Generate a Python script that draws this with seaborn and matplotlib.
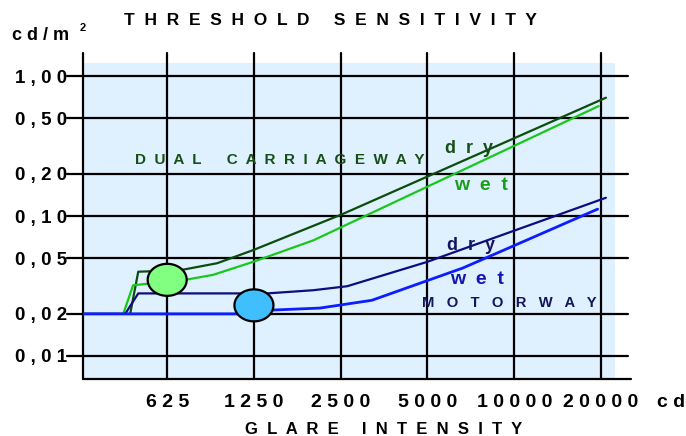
import numpy as np
import matplotlib
matplotlib.use("Agg")
import matplotlib.pyplot as plt
from matplotlib.path import Path
from matplotlib.markers import MarkerStyle
import seaborn as sns

# ----------------------------
# Data (glare intensity in cd, threshold in cd/m2)
# ----------------------------
x_ticks = [625, 1250, 2500, 5000, 10000, 20000]
x_tick_labels = ["6 2 5", "1 2 5 0", "2 5 0 0", "5 0 0 0", "1 0 0 0 0", "2 0 0 0 0"]
y_ticks = [1.0, 0.5, 0.2, 0.1, 0.05, 0.02, 0.01]
y_tick_labels = ["1 , 0 0", "0 , 5 0", "0 , 2 0", "0 , 1 0", "0 , 0 5", "0 , 0 2", "0 , 0 1"]

dual_dry_x = [465, 496, 693, 932, 1240, 2530, 20800]
dual_dry_y = [0.02, 0.040, 0.041, 0.046, 0.057, 0.103, 0.70]

dual_wet_x = [440, 476, 722, 902, 1240, 2008, 2692, 19630]
dual_wet_y = [0.02, 0.032, 0.035, 0.038, 0.047, 0.067, 0.089, 0.61]

motor_dry_x = [320, 447, 496, 1102, 1389, 2008, 2631, 4984, 20800]
motor_dry_y = [0.02, 0.02, 0.028, 0.028, 0.028, 0.0295, 0.0315, 0.047, 0.135]

motor_wet_x = [320, 1102, 1459, 2118, 3206, 6630, 19470]
motor_wet_y = [0.02, 0.02, 0.0213, 0.022, 0.025, 0.0425, 0.112]

marker_x = [625, 1250]
marker_y = [0.035, 0.023]
marker_colors = ["#80ff80", "#40bfff"]

# ----------------------------
# Style
# ----------------------------
sns.set_theme(style="white")
plt.rcParams['font.family'] = ['Liberation Sans', 'DejaVu Sans']
plt.rcParams['font.weight'] = 'bold'

fig = plt.figure(figsize=(6.86, 4.36), dpi=100)
W, H = 686, 436
ax = fig.add_axes([83 / W, 57 / H, 532 / W, 316 / H])
ax.set_facecolor("#dff0fe")

ax.set_xscale("log", base=2)
ax.set_yscale("log")
ax.set_xlim(319, 22370)
ax.set_ylim(0.00685, 1.239)
for s in ax.spines.values():
    s.set_visible(False)

# grid lines that run past the blue area
grid_kw = dict(color="black", lw=1.6, clip_on=False, zorder=1)
for xv in [319] + x_ticks:
    ax.axvline(xv, ymin=0, ymax=(379 - 53) / 316, **grid_kw)
for yv in y_ticks:
    ax.axhline(yv, xmin=(67 - 83) / 532, xmax=(628 - 83) / 532, **grid_kw)
ax.axhline(0.00685, xmin=0, xmax=(631 - 83) / 532, **grid_kw)

ax.set_xticks(x_ticks)
ax.set_xticklabels(x_tick_labels, fontsize=14, fontweight="bold")
ax.set_yticks(y_ticks)
ax.set_yticklabels(y_tick_labels, fontsize=13.5, fontweight="bold")
ax.minorticks_off()
ax.tick_params(axis="x", length=0, pad=11, colors="black")
ax.tick_params(axis="y", length=0, pad=11.5, colors="black")
ax.set_xlabel("")
ax.set_ylabel("")

# ----------------------------
# Curves
# ----------------------------
line_kw = dict(ax=ax, lw=1.6, estimator=None, sort=False, legend=False, zorder=2)
sns.lineplot(x=dual_dry_x, y=dual_dry_y, color="#0b4d0b", **line_kw)
sns.lineplot(x=dual_wet_x, y=dual_wet_y, color="#18c818", **line_kw)
sns.lineplot(x=motor_dry_x, y=motor_dry_y, color="#0d0d80", **line_kw)
sns.lineplot(x=motor_wet_x, y=motor_wet_y, color="#0a1eff", lw=2.0, ax=ax,
             estimator=None, sort=False, legend=False, zorder=2)

# oval markers
t = np.linspace(0, 2 * np.pi, 61)
oval = MarkerStyle(Path(np.column_stack([np.cos(t), 0.82 * np.sin(t)]), closed=True))
sns.scatterplot(x=marker_x, y=marker_y, hue=marker_colors, palette=marker_colors,
                marker=oval, s=790, edgecolor="black", linewidth=1.6,
                legend=False, ax=ax, zorder=3)

# ----------------------------
# Labels
# ----------------------------
ax.text(484, 0.235, "D  U  A  L      C  A  R  R  I  A  G  E  W  A  Y",
        color="#174f17", fontsize=11, fontweight="bold", va="baseline")
ax.text(5760, 0.282, "d  r  y", color="#174f17", fontsize=13, fontweight="bold", va="baseline")
ax.text(6190, 0.153, "w  e  t", color="#1a9e1a", fontsize=14, fontweight="bold", va="baseline")
ax.text(5860, 0.0572, "d  r  y", color="#15155e", fontsize=13, fontweight="bold", va="baseline")
ax.text(5970, 0.0327, "w  e  t", color="#1515b5", fontsize=14, fontweight="bold", va="baseline")
ax.text(4780, 0.0224, "M   O   T   O   R   W   A   Y",
        color="#15155e", fontsize=10.6, fontweight="bold", va="baseline")

fig.text(330 / W, 1 - 25 / H, "T  H  R  E  S  H  O  L  D     S  E  N  S  I  T  I  V  I  T  Y",
         ha="center", va="baseline", fontsize=12.5, fontweight="bold", color="black")
fig.text(12 / W, 1 - 40 / H, "c d / m", ha="left", va="baseline",
         fontsize=13, fontweight="bold", color="black")
fig.text(80 / W, 1 - 31 / H, "2", ha="left", va="baseline",
         fontsize=8, fontweight="bold", color="black")
fig.text(657 / W, 1 - 407 / H, "c d", ha="left", va="baseline",
         fontsize=14, fontweight="bold", color="black")
fig.text(384 / W, 1 - 434 / H, "G  L  A  R  E     I  N  T  E  N  S  I  T  Y",
         ha="center", va="baseline", fontsize=12, fontweight="bold", color="black")

fig.savefig("out.png", dpi=100)
